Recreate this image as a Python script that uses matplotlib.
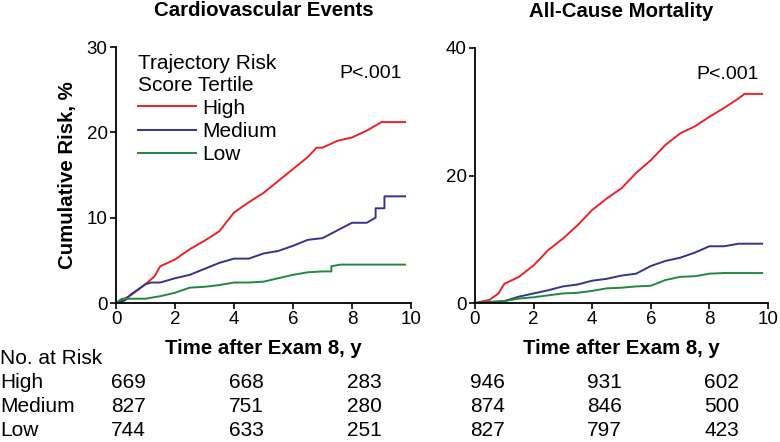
import matplotlib.pyplot as plt
import matplotlib.transforms as mtransforms

# ================= data =================
GROUPS = ['High', 'Medium', 'Low']
COLORS = {'High': '#ee2124', 'Medium': '#34348f', 'Low': '#1f8a3c'}

# Cardiovascular events
cv_t = {
    'High':   [0, 0.5, 1.0, 1.3, 1.5, 2.0, 2.5, 3.0, 3.5, 4.0, 4.5, 5.0, 5.5, 6.0, 6.5, 6.8, 7.0, 7.5, 8.0, 8.5, 9.0, 9.8],
    'Medium': [0, 0.3, 0.5, 1.0, 1.2, 1.5, 2.0, 2.5, 3.0, 3.5, 4.0, 4.5, 5.0, 5.5, 6.0, 6.5, 7.0, 7.5, 8.0, 8.5, 8.8, 8.8, 9.1, 9.1, 9.8],
    'Low':    [0, 0.2, 1.0, 1.5, 2.0, 2.5, 3.0, 3.5, 4.0, 4.5, 5.0, 5.5, 6.0, 6.5, 7.0, 7.3, 7.3, 7.6, 9.8],
}
cv_y = {
    'High':   [0, 0.9, 2.2, 3.1, 4.3, 5.1, 6.3, 7.3, 8.4, 10.6, 11.8, 12.9, 14.3, 15.7, 17.1, 18.2, 18.2, 19.0, 19.4, 20.2, 21.2, 21.2],
    'Medium': [0, 0.3, 1.0, 2.2, 2.4, 2.4, 2.9, 3.3, 4.0, 4.7, 5.2, 5.2, 5.8, 6.1, 6.7, 7.4, 7.6, 8.5, 9.4, 9.4, 10.0, 11.1, 11.1, 12.5, 12.5],
    'Low':    [0, 0.5, 0.5, 0.8, 1.2, 1.8, 1.9, 2.1, 2.4, 2.4, 2.5, 2.9, 3.3, 3.6, 3.7, 3.7, 4.3, 4.5, 4.5],
}

# All-cause mortality
mort_t = {
    'High':   [0, 0.5, 0.8, 1.0, 1.5, 2.0, 2.5, 3.0, 3.5, 4.0, 4.5, 5.0, 5.5, 6.0, 6.5, 7.0, 7.5, 8.0, 8.5, 9.0, 9.2, 9.8],
    'Medium': [0, 1.0, 1.5, 2.0, 2.5, 3.0, 3.5, 4.0, 4.5, 5.0, 5.5, 6.0, 6.5, 7.0, 7.5, 8.0, 8.5, 9.0, 9.8],
    'Low':    [0, 1.0, 1.5, 2.0, 2.5, 3.0, 3.5, 4.0, 4.5, 5.0, 5.5, 6.0, 6.5, 7.0, 7.5, 8.0, 8.5, 9.8],
}
mort_y = {
    'High':   [0, 0.5, 1.5, 3.0, 4.1, 5.9, 8.3, 10.1, 12.2, 14.6, 16.4, 18.0, 20.4, 22.4, 24.8, 26.6, 27.7, 29.2, 30.6, 32.1, 32.8, 32.8],
    'Medium': [0, 0.3, 1.0, 1.5, 2.0, 2.6, 2.9, 3.5, 3.8, 4.3, 4.6, 5.8, 6.6, 7.1, 7.9, 8.9, 8.9, 9.3, 9.3],
    'Low':    [0, 0.3, 0.7, 0.9, 1.2, 1.5, 1.6, 1.9, 2.3, 2.4, 2.6, 2.7, 3.6, 4.1, 4.2, 4.6, 4.7, 4.7],
}

# number at risk
risk_times = [0, 4, 8]
cv_risk = {'High': [669, 668, 283], 'Medium': [827, 751, 280], 'Low': [744, 633, 251]}
mort_risk = {'High': [946, 931, 602], 'Medium': [874, 846, 500], 'Low': [827, 797, 423]}

TITLES = ['Cardiovascular Events', 'All-Cause Mortality']
YMAX = [30, 40]
YTICKS = [[0, 10, 20, 30], [0, 20, 40]]
XTICKS = [0, 2, 4, 6, 8, 10]

# ================= plot =================
plt.rcParams['font.family'] = ['Liberation Sans', 'DejaVu Sans']

W, H = 780, 442
fig = plt.figure(figsize=(W / 100, H / 100), dpi=100)

def px_axes(x0, x1, y_top, y_bot):
    return fig.add_axes([x0 / W, 1 - y_bot / H, (x1 - x0) / W, (y_bot - y_top) / H])

ax_cv = px_axes(116, 411, 47, 303)
ax_m = px_axes(475, 768, 48, 303)
axes = [ax_cv, ax_m]

for ax, ts, ys, title, ymax, yt in zip(axes, [cv_t, mort_t], [cv_y, mort_y], TITLES, YMAX, YTICKS):
    for g in GROUPS:
        ax.plot(ts[g], ys[g], color=COLORS[g], lw=1.4, label=g)
    ax.set_xlim(0, 10)
    ax.set_ylim(0, ymax)
    ax.set_xticks(XTICKS)
    ax.set_yticks(yt)
    ax.set_title(title, fontsize=14.7, fontweight='bold', pad=22)
    ax.set_xlabel('Time after Exam 8, y', fontsize=14.7, fontweight='bold', labelpad=8)
    ax.spines['top'].set_visible(False)
    ax.spines['right'].set_visible(False)
    for s in ['left', 'bottom']:
        ax.spines[s].set_linewidth(1.3)
    ax.tick_params(axis='both', labelsize=13.5, length=4, width=1.2, pad=2)
    ax.text(0.97, 0.898, 'P<.001', transform=ax.transAxes, ha='right', va='center', fontsize=14)

ax_cv.set_ylabel('Cumulative Risk, %', fontsize=14.7, fontweight='bold', labelpad=7)

leg = ax_cv.legend(title='Trajectory Risk\nScore Tertile', loc='upper left',
                   bbox_to_anchor=(0.04, 1.015), frameon=False, fontsize=15,
                   title_fontsize=15, handlelength=2.75, handletextpad=0.3,
                   labelspacing=0.2, alignment='left', borderpad=0)

# number at risk table
row_y = [383, 407, 431]
fig.text(0, 1 - 358 / H, 'No. at Risk', fontsize=15, ha='left', va='center')
for g, yp in zip(GROUPS, row_y):
    fig.text(0, 1 - yp / H, g, fontsize=15, ha='left', va='center')
    for ax, risk in [(ax_cv, cv_risk), (ax_m, mort_risk)]:
        tr = mtransforms.blended_transform_factory(ax.transData, fig.transFigure)
        for t, n in zip(risk_times, risk[g]):
            ax.text(t + 0.42, 1 - yp / H, str(n), transform=tr, fontsize=15,
                    ha='center', va='center', clip_on=False)

fig.savefig('out.png', dpi=100)
